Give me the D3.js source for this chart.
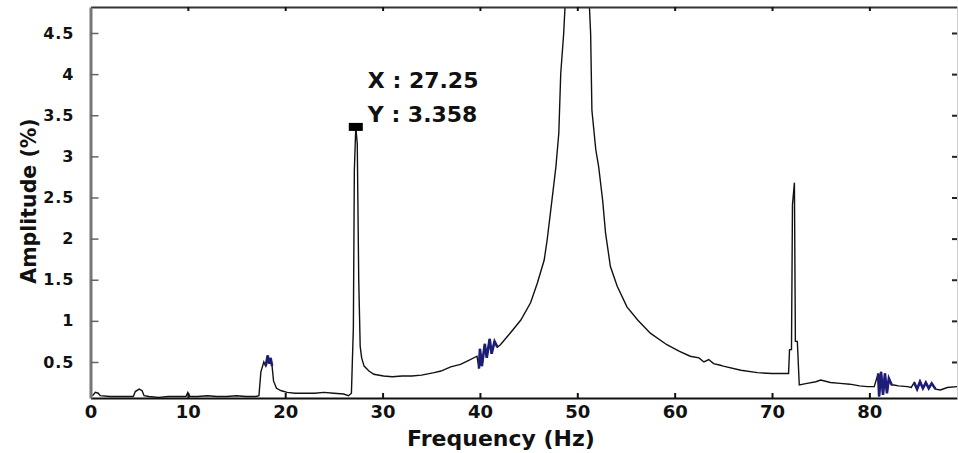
<!DOCTYPE html>
<html>
<head>
<meta charset="utf-8">
<script src="https://cdn.jsdelivr.net/npm/d3@7"></script>
<style>
  html, body { margin: 0; padding: 0; background: #fff; }
  svg { display: block; }
  text { font-family: "DejaVu Sans", Verdana, sans-serif; font-weight: bold; fill: #111; }
</style>
</head>
<body>
<svg id="chart" width="958" height="453"></svg>
<script>
// ---- data ----
const freq = [0.2,0.5,0.8,1.0,2,3,4.4,4.6,5.0,5.3,5.5,6,7,8,9,9.8,10,10.2,11,12,13,14,15,16,17,17.3,
  17.5,17.8,18.0,18.2,18.35,18.5,18.65,18.8,19.1,19.6,20.2,21,22,23,24,25,26,26.5,26.8,
  27.0,27.1,27.25,27.4,27.55,27.7,27.85,28.1,28.6,29.1,30.1,31,32,33,34,35.3,36,37,38,38.7,39.7,
  39.9,40.0,40.2,40.5,40.7,41.0,41.2,41.5,41.8,
  42.1,43.1,44.2,45.2,45.9,46.6,46.9,47.4,47.8,48.1,48.3,48.6,48.9,49.5,50,50.6,51.1,51.37,51.5,51.9,52.2,52.6,52.9,53.4,54.1,55.1,56.2,57.5,59.2,60.5,61.6,
  62.5,63,63.5,64,64.7,65.0,66.8,68.5,70,71.7,71.8,72.0,72.1,72.3,72.4,72.6,72.8,73.6,74.5,75.0,76,77,78,79,79.8,80.5,
  80.9,81.0,81.2,81.4,81.6,81.8,82.0,82.3,82.5,83,83.9,84.3,
  84.6,84.9,85.2,85.5,85.8,86.1,86.4,86.8,87.3,88,89];
const amp = [0.09,0.13,0.12,0.09,0.08,0.08,0.08,0.14,0.17,0.15,0.09,0.08,0.07,0.08,0.08,0.08,0.13,0.08,0.08,0.09,0.08,0.08,0.09,0.08,0.08,0.09,
  0.38,0.50,0.45,0.58,0.48,0.55,0.45,0.27,0.18,0.15,0.13,0.12,0.12,0.12,0.13,0.12,0.11,0.09,0.12,
  0.92,2.83,3.36,3.15,1.5,0.69,0.55,0.45,0.39,0.35,0.33,0.32,0.33,0.33,0.34,0.37,0.39,0.44,0.47,0.51,0.57,
  0.42,0.66,0.45,0.72,0.55,0.78,0.60,0.75,0.68,
  0.71,0.85,1.01,1.22,1.46,1.74,1.98,2.47,2.87,3.28,4.01,4.49,5.2,6,6.5,6,5.2,4.49,3.56,3.08,2.87,2.47,2.07,1.66,1.42,1.17,1.01,0.85,0.71,0.63,0.57,
  0.55,0.50,0.53,0.48,0.46,0.45,0.40,0.37,0.36,0.36,0.65,0.65,2.41,2.68,0.75,0.75,0.22,0.24,0.26,0.28,0.25,0.24,0.23,0.21,0.20,0.20,
  0.36,0.08,0.38,0.10,0.36,0.12,0.30,0.22,0.22,0.21,0.20,0.19,
  0.25,0.17,0.26,0.18,0.25,0.18,0.24,0.17,0.16,0.19,0.20];
// frequency ranges drawn in dark blue
const blueRanges = [[17.9, 18.7], [39.8, 41.9], [80.8, 82.3], [84.5, 86.9]];
const xTicks = [0,10,20,30,40,50,60,70,80];
const yTicks = [0.5,1,1.5,2,2.5,3,3.5,4,4.5];
const cursorX = 27.25, cursorY = 3.358;

// ---- layout ----
const svg = d3.select("#chart");
const mL = 90.5, mR = 957, mT = 7, mB = 398;
const x = d3.scaleLinear().domain([0, 89]).range([mL, mR]);
const y = d3.scaleLinear().domain([0.062, 4.816]).range([mB, mT]);

const data = freq.map((f, i) => ({f, a: amp[i]}));

svg.append("defs").append("clipPath").attr("id", "clip")
  .append("rect").attr("x", mL).attr("y", mT).attr("width", mR - mL).attr("height", mB - mT);

const line = d3.line().x(d => x(d.f)).y(d => y(d.a));

const g = svg.append("g").attr("clip-path", "url(#clip)");
g.append("path").datum(data).attr("d", line)
  .attr("fill", "none").attr("stroke", "#111").attr("stroke-width", 1.4);
blueRanges.forEach(([a, b]) => {
  const seg = data.filter(d => d.f >= a && d.f <= b);
  g.append("path").datum(seg).attr("d", line)
    .attr("fill", "none").attr("stroke", "#1d1d78").attr("stroke-width", 2.6);
});

// ---- axes ----
// bottom
const xb = svg.append("g").attr("transform", `translate(0,${mB})`)
  .call(d3.axisBottom(x).tickValues(xTicks).tickSizeInner(-5).tickSizeOuter(0).tickPadding(8));
xb.select(".domain").attr("stroke", "#111").attr("stroke-width", 2);
xb.selectAll(".tick line").attr("stroke", "#111").attr("stroke-width", 2);
xb.selectAll(".tick text").style("font-size", "18px").attr("dy", "0.71em").attr("y", 7);

// top
const xt = svg.append("g").attr("transform", `translate(0,${mT})`)
  .call(d3.axisTop(x).tickValues(xTicks.slice(1)).tickSizeInner(-4).tickSizeOuter(0).tickFormat(""));
xt.select(".domain").attr("stroke", "#333").attr("stroke-width", 2);
xt.selectAll(".tick line").attr("stroke", "#111").attr("stroke-width", 2);

// left
const yl = svg.append("g").attr("transform", `translate(${mL},0)`)
  .call(d3.axisLeft(y).tickValues(yTicks).tickSizeInner(-8).tickSizeOuter(0).tickPadding(16).tickFormat(d3.format("~g")));
yl.select(".domain").attr("stroke", "#777").attr("stroke-width", 3);
yl.selectAll(".tick line").attr("stroke", "#666").attr("stroke-width", 1.5);
yl.selectAll(".tick text").style("font-size", "16px").style("letter-spacing", "1px");

// right
const yr = svg.append("g").attr("transform", `translate(${mR},0)`)
  .call(d3.axisRight(y).tickValues(yTicks).tickSizeInner(-5).tickSizeOuter(0).tickFormat(""));
yr.select(".domain").attr("stroke", "#ccc").attr("stroke-width", 1);
yr.selectAll(".tick line").attr("stroke", "#222").attr("stroke-width", 2);

// axis titles
svg.append("text").attr("x", 501).attr("y", 446).attr("text-anchor", "middle")
  .style("font-size", "22px").text("Frequency (Hz)");
svg.append("text").attr("transform", "translate(36,201) rotate(-90)").attr("text-anchor", "middle")
  .style("font-size", "20.5px").text("Amplitude (%)");

// data cursor
const cx = x(cursorX), cy = y(cursorY);
svg.append("rect").attr("x", cx - 7).attr("y", cy - 4).attr("width", 14).attr("height", 8).attr("fill", "#000");
svg.append("text").attr("x", cx + 12).attr("y", cy - 39).style("font-size", "22px").text("X : " + cursorX);
svg.append("text").attr("x", cx + 12).attr("y", cy - 5).style("font-size", "22px").text("Y : " + cursorY);
</script>
</body>
</html>
